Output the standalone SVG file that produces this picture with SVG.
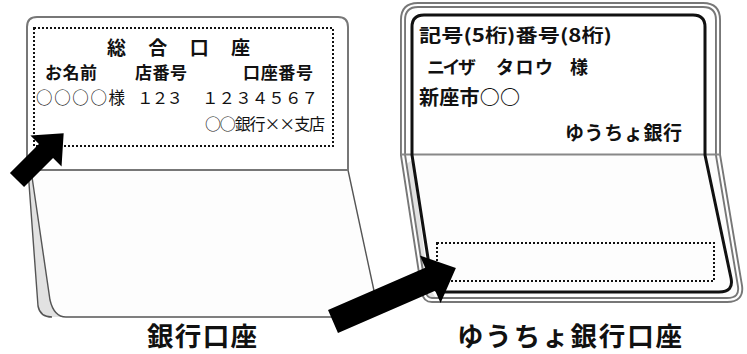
<svg xmlns="http://www.w3.org/2000/svg" width="747" height="354" viewBox="0 0 747 354">
  <style>
    .jp { font-family: "Noto Sans CJK JP", "Noto Sans", sans-serif; fill: #111; }
    .b { font-weight: bold; }
    .dots { fill: none; stroke: #111; stroke-width: 2; stroke-dasharray: 2 2; }
    .edge { fill: none; stroke: #555; stroke-width: 1.4; }
    .arrow { fill: #000; }
  </style>

  <!-- Bank passbook (left) -->
  <g id="bank-passbook">
    <!-- lower page and its stacked edges -->
    <path d="M28,170 L38,306 Q40,317 52,317 L66,317 Q54,317 50,300 L31,170 Z" fill="#e2e2e2"/>
    <path d="M31,170 L348,170 L376,300 Q379,317 362,317 L66,317 Q54,317 50,300 Z" fill="#fdfdfd"/>
    <path class="edge" d="M28,170 L38,306 Q40,317 52,317"/>
    <path class="edge" d="M31,170 L50,300 Q54,317 66,317 L362,317"/>
    <path class="edge" d="M348,170 L376,300 Q379,317 362,317"/>
    <!-- upper page -->
    <path d="M27,170 L27,27 Q27,17 37,17 L338,17 Q348,17 348,27 L348,170 Z" fill="#fff" stroke="#777" stroke-width="2"/>
    <rect class="dots" x="34" y="28" width="299" height="118"/>
    <text class="jp b" x="107" y="54.5" font-size="19" textLength="143" lengthAdjust="spacing">総　合　口　座</text>
    <text class="jp b" x="45" y="79" font-size="17" textLength="52">お名前</text>
    <text class="jp b" x="135" y="79" font-size="17" textLength="52">店番号</text>
    <text class="jp b" x="243" y="79" font-size="17" textLength="70">口座番号</text>
    <text class="jp" x="36" y="104" font-size="16.5" textLength="89">○○○○様</text>
    <text class="jp" x="137" y="104" font-size="16.5" textLength="46">１２３</text>
    <text class="jp" x="202" y="104" font-size="16.5" textLength="116">１２３４５６７</text>
    <text class="jp" x="205" y="130" font-size="16" textLength="120">○○銀行××支店</text>
  </g>

  <!-- Yucho passbook (right) -->
  <g id="yucho-passbook">
    <path d="M403,155 L718,155 L740,286 Q742,300 727,300 L432,300 Q425,300 424,292 Z" fill="#fdfdfd"/>
    <path d="M403,20 Q403,5 418,5 L703,5 Q718,5 718,20 L718,155 L403,155 Z" fill="#fff"/>
    <path d="M405,165 L424,292 Q426,300 434,300 L438,300 Q430,292 428,280 L412,160 Z" fill="#e2e2e2"/>
    <!-- outer cover: double line -->
    <path d="M403,155 L403,20 Q403,5 418,5 L703,5 Q718,5 718,20 L718,155 L740,286 Q742,300 727,300 L432,300 Q425,300 424,292 Z" fill="none" stroke="#777" stroke-width="6" stroke-linejoin="round"/>
    <path d="M403,155 L403,20 Q403,5 418,5 L703,5 Q718,5 718,20 L718,155 L740,286 Q742,300 727,300 L432,300 Q425,300 424,292 Z" fill="none" stroke="#fff" stroke-width="2.2" stroke-linejoin="round"/>
    <!-- fold -->
    <line x1="401" y1="154.5" x2="720" y2="154.5" stroke="#888" stroke-width="2"/>
    <!-- inner page outline -->
    <path d="M412,155 L412,27 Q412,15 424,15 L693,15 Q705,15 705,27 L705,155 L731,278 Q734,292 719,292 L442,292 Q434,292 432,284 Z" fill="none" stroke="#111" stroke-width="3" stroke-linejoin="round"/>
    <rect class="dots" x="437" y="243" width="277" height="38"/>
    <text class="jp b" x="419" y="42" font-size="18" textLength="193" lengthAdjust="spacingAndGlyphs">記号(5桁)番号(8桁)</text>
    <text class="jp b" x="427" y="74" font-size="18" textLength="49">ニイザ</text>
    <text class="jp b" x="496" y="74" font-size="18" textLength="57">タロウ</text>
    <text class="jp b" x="570" y="74" font-size="18">様</text>
    <text class="jp b" x="419" y="105" font-size="20" textLength="101">新座市○○</text>
    <text class="jp b" x="565" y="139.5" font-size="19" textLength="117">ゆうちょ銀行</text>
  </g>

  <!-- Captions -->
  <g id="captions">
    <text class="jp b" x="147" y="345.5" font-size="26.5" textLength="110">銀行口座</text>
    <text class="jp b" x="457" y="345.5" font-size="26.5" textLength="225">ゆうちょ銀行口座</text>
  </g>

  <!-- Pointer arrows -->
  <g id="connectors">
    <polygon class="arrow" transform="translate(17,180) rotate(-45)" points="0,-10 41,-10 41,-22 66,0 41,22 41,10 0,10"/>
    <polygon class="arrow" transform="translate(333,321.5) rotate(-23.5)" points="0,-12.5 106,-12.5 106,-26 134,0 106,26 106,12.5 0,12.5"/>
  </g>
</svg>
